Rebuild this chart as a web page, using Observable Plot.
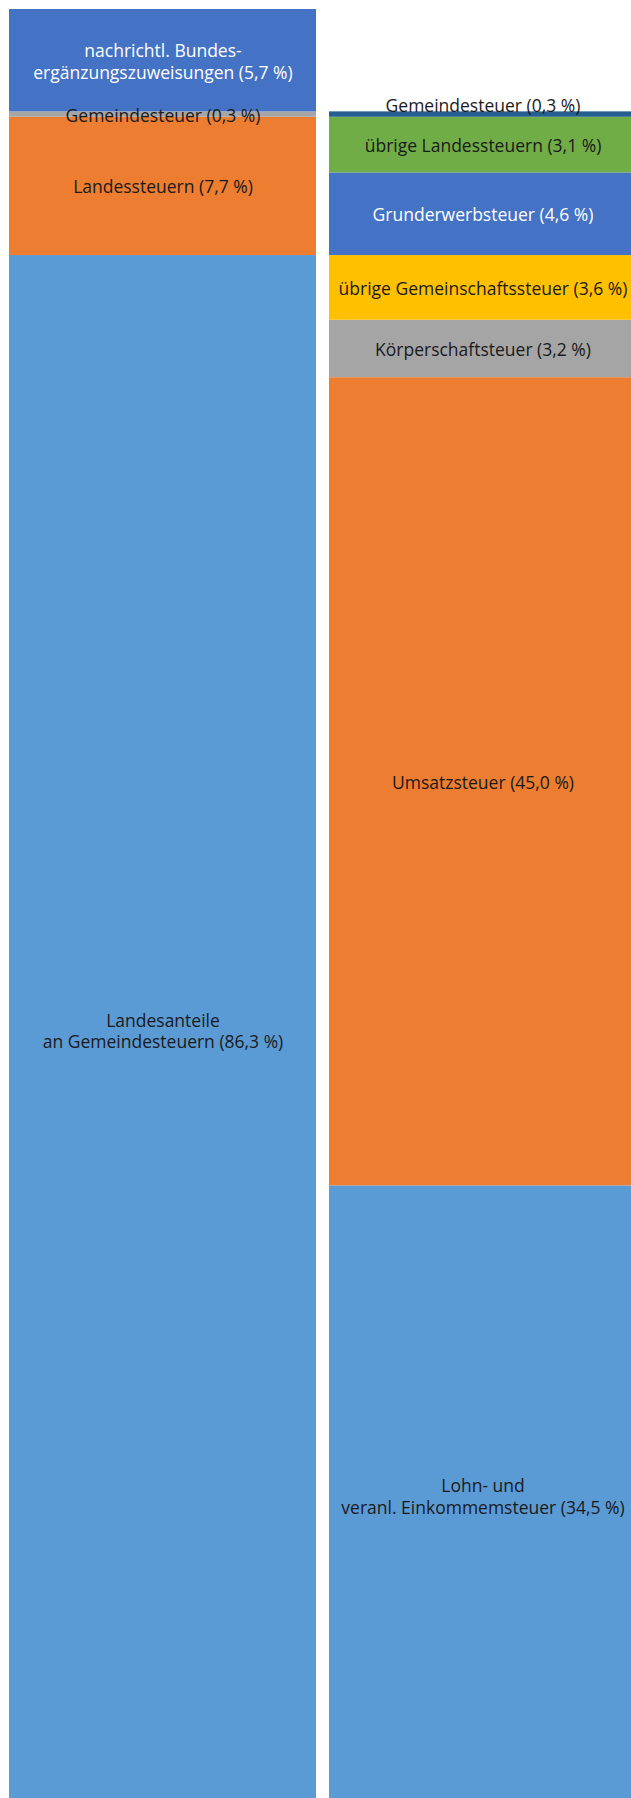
<!DOCTYPE html>
<html>
<head>
<meta charset="utf-8">
<script src="https://cdn.jsdelivr.net/npm/d3@7"></script>
<script src="https://cdn.jsdelivr.net/npm/@observablehq/plot@0.6"></script>
<style>
  html, body { margin: 0; padding: 0; overflow: hidden; background: #fff; }
  #chart svg { display: block; max-width: none !important; }
</style>
</head>
<body>
<div id="chart"></div>
<script>
// Bars (columns)
const bars = ["Länder", "Gemeinschaft"];

// Left column, bottom to top
const leftKeys   = ["L_Landesanteile", "L_Landessteuern", "L_Gemeindesteuer", "L_BEZ"];
const leftValues = [86.3, 7.7, 0.3, 5.7];
const leftLabels = [
  "Landesanteile\nan Gemeindesteuern (86,3 %)",
  "Landessteuern (7,7 %)",
  "Gemeindesteuer (0,3 %)",
  "nachrichtl. Bundes-\nergänzungszuweisungen (5,7 %)"
];

// Right column, bottom to top
const rightKeys   = ["R_Lohn", "R_Umsatz", "R_Koerperschaft", "R_Gemeinschaft", "R_Grunderwerb", "R_Landes", "R_Gemeindesteuer"];
const rightValues = [34.5, 45.0, 3.2, 3.6, 4.6, 3.1, 0.3];
const rightLabels = [
  "Lohn- und\nveranl. Einkommemsteuer (34,5 %)",
  "Umsatzsteuer (45,0 %)",
  "Körperschaftsteuer (3,2 %)",
  "übrige Gemeinschaftssteuer (3,6 %)",
  "Grunderwerbsteuer (4,6 %)",
  "übrige Landessteuern (3,1 %)",
  "Gemeindesteuer (0,3 %)"
];

// Palette
const segmentKeys = [...leftKeys, ...rightKeys];
const segmentColors = [
  "#5B9BD5", "#ED7D31", "#A5A5A5", "#4472C4",
  "#5B9BD5", "#ED7D31", "#A5A5A5", "#FFC000", "#4472C4", "#70AD47", "#255E91"
];
const whiteLabelKeys = ["L_BEZ", "R_Grunderwerb"];
const aboveLabelKeys = ["R_Gemeindesteuer"];

const data = [
  ...leftKeys.map((k, i) => ({bar: bars[0], key: k, value: leftValues[i], label: leftLabels[i]})),
  ...rightKeys.map((k, i) => ({bar: bars[1], key: k, value: rightValues[i], label: rightLabels[i]}))
];

const font = "'Open Sans', 'Noto Sans', sans-serif";
const fs = 17.5;

const chart = Plot.plot({
  width: 645,
  height: 1806,
  marginTop: 9,
  marginBottom: 1,
  marginLeft: 9,
  marginRight: 9,
  style: {fontFamily: font, fontSize: fs + "px", background: "#fff"},
  x: {domain: bars, axis: null, paddingInner: 0.040625, paddingOuter: 0},
  y: {domain: [0, 100], axis: null},
  color: {domain: segmentKeys, range: segmentColors},
  marks: [
    Plot.barY(data, Plot.stackY({x: "bar", y: "value", fill: "key", order: null})),
    Plot.text(data, Plot.stackY({
      x: "bar", y: "value", order: null,
      text: d => aboveLabelKeys.includes(d.key) ? null : d.label,
      fill: d => whiteLabelKeys.includes(d.key) ? "#ffffff" : "#1a1a1a",
      lineHeight: 1.25, fontSize: fs
    })),
    Plot.text(data, Plot.stackY({
      x: "bar", y: "value", order: null,
      text: d => aboveLabelKeys.includes(d.key) ? d.label : null,
      fill: "#1a1a1a", dy: -8, fontSize: fs
    }))
  ]
});
document.getElementById("chart").append(chart);
</script>
</body>
</html>
